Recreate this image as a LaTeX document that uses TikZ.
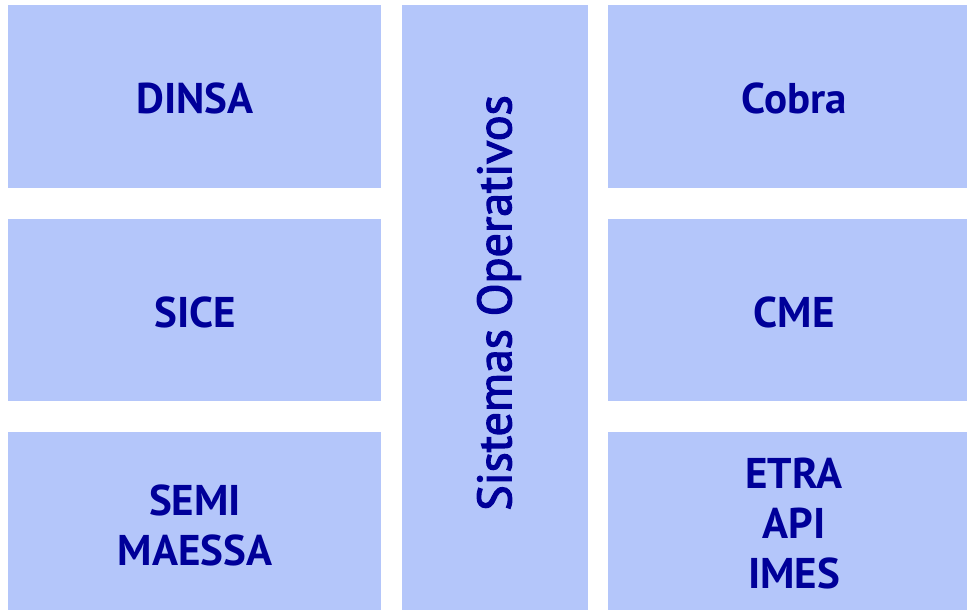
\documentclass[tikz,border=0pt]{standalone}
\usepackage{fontspec}
\setmainfont{PT Sans}
\newfontfamily\vfont[FakeBold=2.5]{PT Sans}
\definecolor{boxfill}{RGB}{180,198,250}
\definecolor{txt}{RGB}{0,0,153}
\begin{document}
\begin{tikzpicture}[x=1pt,y=1pt,
  blk/.style={fill=boxfill,draw=none},
  lbl/.style={text=txt,font=\fontsize{43}{50}\selectfont\bfseries,align=center,inner sep=0pt},
  vlbl/.style={text=txt,font=\vfont\fontsize{48}{56}\selectfont,rotate=90,inner sep=0pt}]
\useasboundingbox (0,0) rectangle (967,-610);
\fill[white] (0,0) rectangle (967,-610);
% left column
\path[blk] (8,-5) rectangle (381,-188);
\path[blk] (8,-219) rectangle (381,-401);
\path[blk] (8,-432) rectangle (381,-610);
% middle
\path[blk] (402,-5) rectangle (588,-610);
% right column
\path[blk] (608,-5) rectangle (967,-188);
\path[blk] (608,-219) rectangle (967,-401);
\path[blk] (608,-432) rectangle (967,-610);
\node[lbl] (dinsa) at (195,-98) {DINSA};
\node[lbl] (sice) at (195,-312) {SICE};
\node[lbl] (semi) at (195,-525) {SEMI\\MAESSA};
\node[lbl] (cobra) at (794,-98) {Cobra};
\node[lbl] (cme) at (794,-312) {CME};
\node[lbl] (etra) at (794,-524) {ETRA\\API\\IMES};
\node[vlbl] (so) at (499,-303) {Sistemas Operativos};
\end{tikzpicture}
\end{document}
